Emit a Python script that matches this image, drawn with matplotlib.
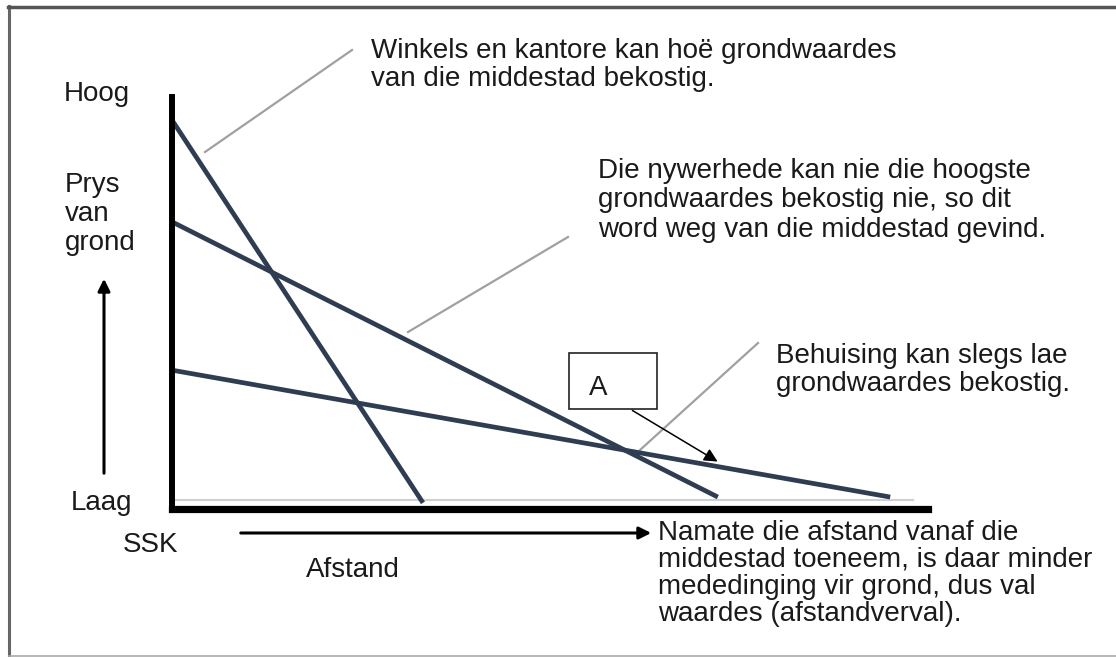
import numpy as np
import matplotlib.pyplot as plt
from matplotlib.patches import Rectangle

plt.rcParams['font.family'] = ['Liberation Sans', 'DejaVu Sans']

W, H = 1116, 657

# bid-rent lines: distance from CBD (0-100) vs land price (0-100)
winkels_x = [0, 33.2]
winkels_y = [94.4, 1.5]
nywerheid_x = [0, 72.2]
nywerheid_y = [69.7, 2.9]
behuising_x = [0, 95.0]
behuising_y = [33.7, 2.9]

note_winkels = "Winkels en kantore kan hoë grondwaardes\nvan die middestad bekostig."
note_nywerheid = "Die nywerhede kan nie die hoogste\ngrondwaardes bekostig nie, so dit\nword weg van die middestad gevind."
note_behuising = "Behuising kan slegs lae\ngrondwaardes bekostig."
note_afstand = "Namate die afstand vanaf die\nmiddestad toeneem, is daar minder\nmededinging vir grond, dus val\nwaardes (afstandverval)."

fig = plt.figure(figsize=(W / 100, H / 100), dpi=100)
fig.patch.set_facecolor('white')

# overlay for annotations, in pixel coordinates
ov = fig.add_axes([0, 0, 1, 1])
ov.set_xlim(0, W)
ov.set_ylim(H, 0)
ov.axis('off')

# main plot area
left, right, top, bottom = 172, 928, 97, 509
ax = fig.add_axes([left / W, 1 - bottom / H, (right - left) / W, (bottom - top) / H])
ax.set_xlim(0, 100)
ax.set_ylim(0, 100)
ax.patch.set_alpha(0)
for s in ['top', 'right']:
    ax.spines[s].set_visible(False)
ax.spines['left'].set_linewidth(4.3)
ax.spines['bottom'].set_linewidth(5.2)
ax.spines['left'].set_capstyle('projecting')
ax.set_xticks([])
ax.set_yticks([])

line_col = '#2f3d52'
ax.plot([0.5, 98], [2.2, 2.2], color='#d0d0d0', lw=1.5, clip_on=False)
for xs, ys in [(winkels_x, winkels_y), (nywerheid_x, nywerheid_y), (behuising_x, behuising_y)]:
    ax.plot(xs, ys, color=line_col, lw=3.4, clip_on=False, solid_capstyle='butt')

# frame
ov.plot([9, 9], [6, 657], color='#666666', lw=2.2)
ov.plot([8, W], [6.5, 6.5], color='#555555', lw=2.5)
ov.plot([9, W], [655.5, 655.5], color='#aaaaaa', lw=1.2)

# grey leader lines
grey = '#a0a0a0'
ov.plot([205, 352], [152, 50], color=grey, lw=1.6)
ov.plot([408, 568], [332, 237], color=grey, lw=1.6)
ov.plot([640, 758], [450, 343], color=grey, lw=1.6)

# va='baseline' pins the last line's baseline
fs = 20
tc = '#1a1a1a'
ov.text(371, 86, note_winkels, fontsize=fs, color=tc, va='baseline', linespacing=1.085)
ov.text(598, 237, note_nywerheid, fontsize=fs, color=tc, va='baseline', linespacing=1.18)
ov.text(776, 391, note_behuising, fontsize=fs, color=tc, va='baseline', linespacing=1.12)
ov.text(658, 621, note_afstand, fontsize=fs, color=tc, va='baseline', linespacing=1.05)

ov.text(64, 101, "Hoog", fontsize=fs, color=tc, va='baseline')
ov.text(65, 250, "Prys\nvan\ngrond", fontsize=fs, color=tc, va='baseline', linespacing=1.16)
ov.text(71, 510, "Laag", fontsize=fs, color=tc, va='baseline')
ov.text(123, 552, "SSK", fontsize=fs, color=tc, va='baseline')
ov.text(306, 577, "Afstand", fontsize=fs, color=tc, va='baseline')

# arrows
ov.annotate('', xy=(104, 276), xytext=(104, 476),
            arrowprops=dict(arrowstyle='-|>', color='black', lw=2.2, mutation_scale=18))
ov.annotate('', xy=(654, 533), xytext=(238, 533),
            arrowprops=dict(arrowstyle='-|>', color='black', lw=2.2, mutation_scale=18))

# box A
ov.add_patch(Rectangle((569, 353), 88, 56, fill=True, facecolor='white', edgecolor='#222222', lw=1.2))
ov.text(589, 395, "A", fontsize=fs, color=tc, va='baseline')
ov.annotate('', xy=(720, 463), xytext=(630, 409),
            arrowprops=dict(arrowstyle='-|>', color='black', lw=1.1, mutation_scale=20))

fig.savefig('out.png', dpi=100)
